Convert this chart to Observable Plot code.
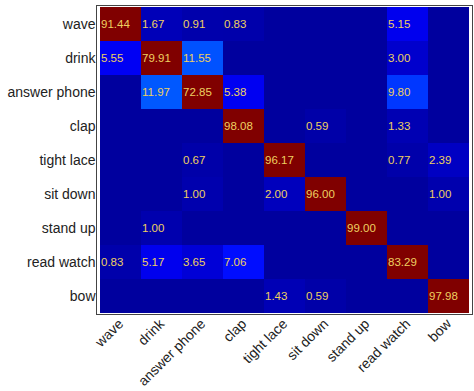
<!DOCTYPE html>
<html>
<head>
<meta charset="utf-8">
<script src="https://cdn.jsdelivr.net/npm/d3@7"></script>
<script src="https://cdn.jsdelivr.net/npm/@observablehq/plot@0.6"></script>
<style>
  html, body { margin: 0; padding: 0; background: #fff; }
  #chart svg { display: block; }
</style>
</head>
<body>
<div id="chart"></div>
<script>
// categories (true class rows, predicted class columns)
const actions = ["wave", "drink", "answer phone", "clap", "tight lace", "sit down", "stand up", "read watch", "bow"];

// one row per true class; null = empty cell
const rowWave        = [91.44, 1.67, 0.91, 0.83, null, null, null, 5.15, null];
const rowDrink       = [5.55, 79.91, 11.55, null, null, null, null, 3.00, null];
const rowAnswerPhone = [null, 11.97, 72.85, 5.38, null, null, null, 9.80, null];
const rowClap        = [null, null, null, 98.08, null, 0.59, null, 1.33, null];
const rowTightLace   = [null, null, 0.67, null, 96.17, null, null, 0.77, 2.39];
const rowSitDown     = [null, null, 1.00, null, 2.00, 96.00, null, null, 1.00];
const rowStandUp     = [null, 1.00, null, null, null, null, 99.00, null, null];
const rowReadWatch   = [0.83, 5.17, 3.65, 7.06, null, null, null, 83.29, null];
const rowBow         = [null, null, null, null, 1.43, 0.59, null, null, 97.98];

const rows = [rowWave, rowDrink, rowAnswerPhone, rowClap, rowTightLace, rowSitDown, rowStandUp, rowReadWatch, rowBow];

const cells = [];
rows.forEach((r, i) => r.forEach((v, j) => {
  cells.push({truth: actions[i], pred: actions[j], value: v});
}));

function jet(t) {
  const c = x => Math.max(0, Math.min(1, x));
  const r = c(1.5 - Math.abs(4 * t - 3));
  const g = c(1.5 - Math.abs(4 * t - 2));
  const b = c(1.5 - Math.abs(4 * t - 1));
  return `rgb(${Math.round(r * 255)},${Math.round(g * 255)},${Math.round(b * 255)})`;
}

const chart = Plot.plot({
  width: 474,
  height: 391,
  marginLeft: 96,
  marginRight: 2,
  marginTop: 5,
  marginBottom: 77,
  style: {fontFamily: "'Liberation Sans', Arial, sans-serif", color: "#222", background: "#fff"},
  x: {domain: actions, padding: 0, label: null},
  y: {domain: actions, padding: 0, label: null},
  color: {type: "linear", domain: [-2, 64], interpolate: jet, clamp: true},
  marks: [
    Plot.cell(cells, {x: "pred", y: "truth", fill: d => d.value ?? 0, inset: 0}),
    Plot.text(cells.filter(d => d.value != null), {
      x: "pred", y: "truth", text: d => d.value.toFixed(2),
      textAnchor: "start", dx: -20, fill: "#eed060", fontSize: 11.5
    }),
    Plot.axisX({anchor: "bottom", tickRotate: -45, tickSize: 0, tickPadding: 7, fontSize: 14, label: null}),
    Plot.axisY({anchor: "left", tickSize: 0, tickPadding: 1, fontSize: 14, label: null}),
    Plot.frame({stroke: "#444", strokeWidth: 1})
  ]
});
document.getElementById("chart").appendChild(chart);
</script>
</body>
</html>
